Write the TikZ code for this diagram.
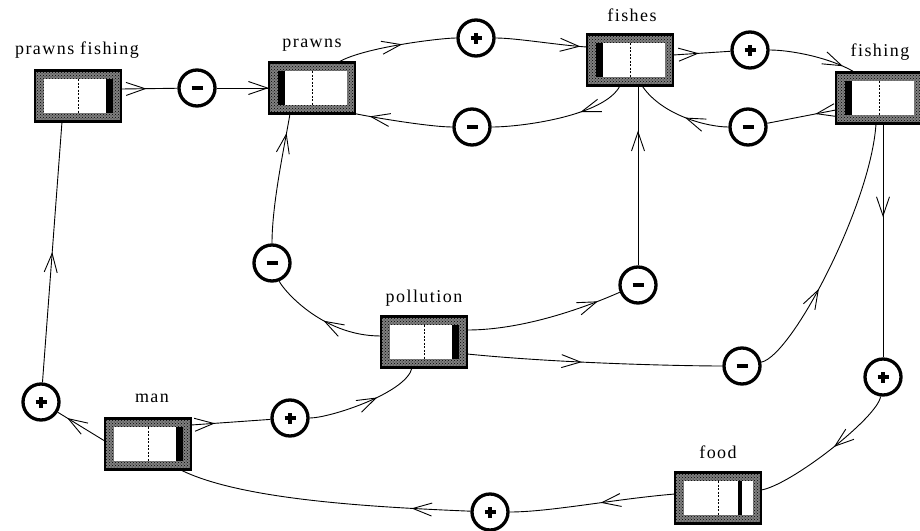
\documentclass[tikz,border=0pt]{standalone}
\usepackage{fontspec}
\setmainfont{Liberation Serif}[LetterSpace=8.0]
\usetikzlibrary{arrows.meta,decorations.markings,calc,patterns}

\tikzset{
  stockbox/.style={rectangle, minimum width=86pt, minimum height=51pt, inner sep=0pt},
  sign/.style={circle, draw, line width=3.3pt, minimum size=36pt, inner sep=0pt, fill=white},
  minus/.style={sign, path picture={
      \draw[line width=4.2pt] ([xshift=-5.5pt]path picture bounding box.center) -- ([xshift=5.5pt]path picture bounding box.center);}},
  plus/.style={sign, path picture={
      \draw[line width=3.6pt] ([xshift=-5.5pt]path picture bounding box.center) -- ([xshift=5.5pt]path picture bounding box.center);
      \draw[line width=3.6pt] ([yshift=-5.5pt]path picture bounding box.center) -- ([yshift=5.5pt]path picture bounding box.center);}},
  lbl/.style={font=\fontsize{18}{20}\selectfont, inner sep=0pt},
  link/.style={line width=0.9pt},
  flowtip/.style={postaction={decorate}, decoration={markings,
      mark=at position #1 with {\arrow{Straight Barb[length=19pt,width=13pt,line width=0.9pt]}}}}
}

% stock: name, x, y, inner bar (l, r or f for the split food box)
\newcommand\stock[4]{%
  \begin{scope}[shift={(#2,#3)}]
    \fill[black!50] (-43,-25.5) rectangle (43,25.5);
    \fill[pattern=crosshatch dots, pattern color=black] (-43,-25.5) rectangle (43,25.5);
    \fill[white] (-34,-17) rectangle (35,17);
    \ifx l#4\fill[black] (-34,-17) rectangle (-27,17);\fi
    \ifx r#4\fill[black] (28,-17) rectangle (35,17);\fi
    \ifx f#4\fill[black] (20,-17) rectangle (23.5,17);\fi
    \draw[line width=1pt, dash pattern=on 2pt off 1.5pt] (0,-17) -- (0,17);
    \draw[line width=2.6pt] (-43,-25.5) rectangle (43,25.5);
  \end{scope}
  \node[stockbox] (#1) at (#2,#3) {};
}

\begin{document}
\begin{tikzpicture}[x=1pt, y=-1pt]
  \useasboundingbox (0,0) rectangle (920,530);

  % stocks
  \stock{pf}{78}{96}{r}
  \stock{prawns}{312}{88}{l}
  \stock{fishes}{630}{60}{l}
  \stock{fishing}{879}{98}{l}
  \stock{pollution}{424}{342}{r}
  \stock{man}{148}{444}{r}
  \stock{food}{718}{498}{f}

  % labels
  \node[lbl] (lpf) at (77,50) {prawns fishing};
  \node[lbl] (lprawns) at (312,45) {prawns};
  \node[lbl] (lfishes) at (632,15) {fishes};
  \node[lbl] (lfishing) at (880,52) {fishing};
  \node[lbl] (lpollution) at (424,298) {pollution};
  \node[lbl] (lman) at (152,398) {man};
  \node[lbl] (lfood) at (718,452) {food};

  % influences
  \node[minus] (c1) at (197,88) {};
  \node[plus]  (c2) at (476,38) {};
  \node[minus] (c3) at (472,127) {};
  \node[plus]  (c4) at (750,50) {};
  \node[minus] (c5) at (748,127) {};
  \node[minus] (c6) at (272,263) {};
  \node[minus] (c7) at (638,285) {};
  \node[minus] (c8) at (742,366) {};
  \node[plus]  (c9) at (883,377) {};
  \node[plus]  (c10) at (41,402) {};
  \node[plus]  (c11) at (290,418) {};
  \node[plus]  (c12) at (490,512) {};

  % links
  \draw[link, flowtip=0.45] ($(pf.east)+(0,-7)$) -- (c1);
  \draw[link, flowtip=1] (c1) -- (prawns.west);
  \draw[link, flowtip=0.55] ($(prawns.north east)+(-17,0)$) .. controls +(25,-15) and +(-35,0) .. (c2);
  \draw[link, flowtip=0.93] (c2) .. controls +(40,0) and +(-30,-2) .. ($(fishes.west)+(0,-13)$);
  \draw[link, flowtip=0.45] ($(fishes.east)+(0,-5)$) -- (c4);
  \draw[link, flowtip=0.85] (c4) .. controls +(40,0) and +(-25,-15) .. ($(fishing.north west)+(19,0)$);
  \draw[link, flowtip=0.3] ($(fishing.west)+(0,12)$) -- (c5);
  \draw[link, flowtip=0.45] (c5) .. controls +(-40,0) and +(20,30) .. ($(fishes.south)+(12,0)$);
  \draw[link, flowtip=0.35] ($(fishes.south)+(-10,0)$) .. controls +(-15,30) and +(50,0) .. (c3);
  \draw[link, flowtip=0.85] (c3) .. controls +(-40,0) and +(25,5) .. (prawns.south east);
  \draw[link, flowtip=0.5] ($(pollution.west)+(0,-6)$) .. controls +(-60,0) and +(10,25) .. (c6);
  \draw[link, flowtip=0.85] (c6) .. controls +(0,-60) and +(-5,30) .. ($(prawns.south)+(-22,0)$);
  \draw[link, flowtip=0.85] ($(pollution.east)+(0,-12)$) .. controls +(70,0) and +(-25,10) .. (c7);
  \draw[link, flowtip=0.75] (c7) -- ($(fishes.south)+(8,0)$);
  \draw[link, flowtip=0.45] ($(pollution.east)+(0,12)$) .. controls +(100,10) and +(-50,0) .. (c8);
  \draw[link, flowtip=0.35] (c8) .. controls +(50,-10) and +(-5,80) .. ($(fishing.south)+(-3,0)$);
  \draw[link, flowtip=0.4] ($(fishing.south)+(4,0)$) -- (c9);
  \draw[link, flowtip=0.45] (c9) .. controls +(-5,40) and +(30,-5) .. ($(food.east)+(0,-8)$);
  \draw[link, flowtip=0.45] ($(food.west)+(0,-4)$) .. controls +(-60,5) and +(60,0) .. (c12);
  \draw[link, flowtip=0.2] (c12) .. controls +(-120,-5) and +(60,30) .. ($(man.south east)+(-11,0)$);
  \draw[link, flowtip=0.8] ($(man.west)+(0,-3)$) -- (c10);
  \draw[link, flowtip=0.5] (c10) -- ($(pf.south)+(-16,0)$);
  \draw[link, flowtip=0.3] ($(man.east)+(0,-19)$) -- (c11);
  \draw[link, flowtip=0.6] (c11) .. controls +(40,0) and +(-5,25) .. ($(pollution.south)+(-12,0)$);
\end{tikzpicture}
\end{document}
